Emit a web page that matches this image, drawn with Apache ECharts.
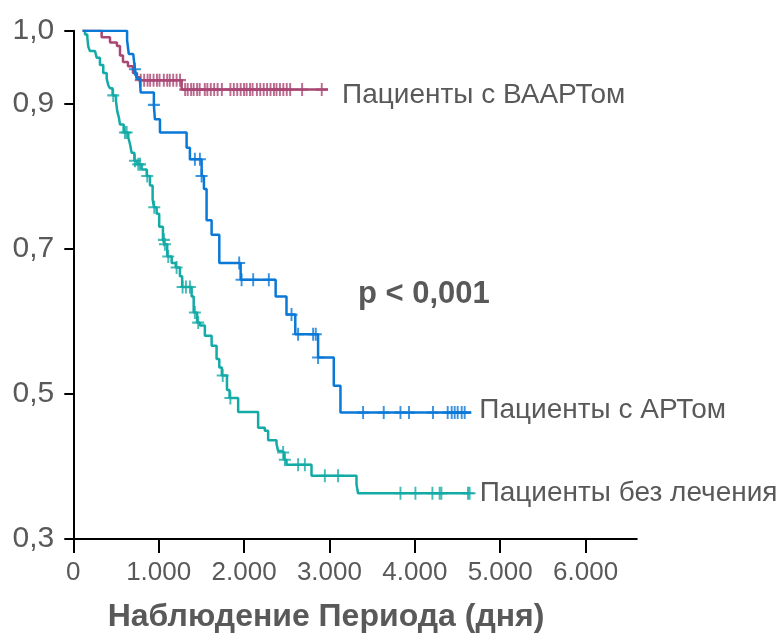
<!DOCTYPE html>
<html>
<head>
<meta charset="utf-8">
<script src="https://cdn.jsdelivr.net/npm/echarts@6/dist/echarts.min.js"></script>
<style>
html,body{margin:0;padding:0;background:#fff;}
#c{width:779px;height:635px;}
</style>
</head>
<body>
<div id="c"></div>
<script>
// ---- data ----
const seriesNames = ['Пациенты с ВААРТом', 'Пациенты с АРТом', 'Пациенты без лечения'];
const xTicks = [0, 1000, 2000, 3000, 4000, 5000, 6000];
const yTicks = [0.3, 0.5, 0.7, 0.9, 1.0];

// survival change points [day, survival]
const haartCurve = [[110,1.0],[332,0.991],[430,0.984],[511,0.979],[547,0.966],[582,0.957],[640,0.951],[699,0.942],[746,0.936],[781,0.932],[1269,0.919],[2984,0.919]];
const artCurve = [[110,1.0],[630,0.987],[650,0.968],[702,0.966],[714,0.955],[722,0.947],[742,0.934],[781,0.931],[789,0.915],[944,0.898],[956,0.878],[1015,0.860],[1327,0.839],[1366,0.823],[1503,0.800],[1530,0.782],[1561,0.739],[1620,0.719],[1710,0.680],[1960,0.657],[2370,0.634],[2497,0.609],[2600,0.582],[2867,0.550],[3051,0.511],[3129,0.474],[4662,0.474]];
const noTxCurve = [[110,1.0],[137,0.995],[164,0.991],[176,0.978],[195,0.972],[254,0.970],[274,0.963],[312,0.953],[351,0.942],[391,0.934],[410,0.925],[429,0.921],[460,0.911],[500,0.903],[515,0.889],[535,0.880],[547,0.871],[590,0.860],[644,0.853],[664,0.844],[683,0.832],[715,0.821],[750,0.816],[800,0.809],[860,0.800],[898,0.787],[929,0.768],[945,0.757],[976,0.748],[1006,0.730],[1050,0.712],[1070,0.706],[1100,0.689],[1152,0.680],[1200,0.674],[1249,0.662],[1275,0.647],[1386,0.634],[1410,0.612],[1450,0.598],[1483,0.594],[1541,0.580],[1620,0.566],[1678,0.548],[1710,0.536],[1740,0.525],[1800,0.505],[1830,0.494],[1931,0.475],[2165,0.453],[2243,0.449],[2282,0.436],[2380,0.431],[2399,0.421],[2440,0.419],[2470,0.409],[2497,0.402],[2790,0.387],[3317,0.375],[3335,0.363],[4642,0.363]];

// censoring times (days)
const haartCensor = [790,830,870,900,940,980,1010,1060,1100,1130,1170,1210,1250,1310,1340,1380,1410,1450,1480,1540,1570,1610,1650,1690,1740,1840,1880,1920,1960,2000,2030,2070,2100,2150,2190,2230,2270,2310,2350,2380,2420,2460,2500,2540,2680,2910];
const artCensor = [722,944,1424,1483,1503,1943,1971,2107,2290,2556,2633,2809,2840,2867,3394,3636,3832,3932,4213,4385,4432,4467,4502,4549,4584];
const noTxCensor = [468,605,625,722,761,781,866,948,1061,1073,1112,1210,1280,1319,1366,1424,1463,1750,1840,2458,2478,2633,2712,2946,3101,3832,4007,4206,4291,4311,4623,4642];

const pText = 'p < 0,001';
const xTitle = 'Наблюдение Периода (дня)';

// ---- chart ----
const colors = ['#aa4673', '#0a78d7', '#14aaa6'];
const textColor = '#595959';
const fontFam = '"Liberation Sans", Arial, sans-serif';
const plusPath = 'path://M5,0L5,10M0,5L10,5';

function survAt(curve, t) {
  let v = curve[0][1];
  for (const p of curve) { if (p[0] <= t) v = p[1]; else break; }
  return v;
}
function censorData(curve, times) { return times.map(t => [t, survAt(curve, t)]); }

function lineSeries(name, curve, color, z, labelOffset) {
  return {
    type: 'line', name: name, data: curve, step: 'end', showSymbol: false, symbol: 'none',
    lineStyle: { color: color, width: 2.5 }, z: z, silent: true,
    endLabel: {
      show: true, formatter: p => p.seriesName, color: textColor,
      fontFamily: fontFam, fontSize: 28,
      distance: labelOffset[0], offset: [0, labelOffset[1]]
    }
  };
}
function censorSeries(name, curve, times, color, z) {
  return {
    type: 'scatter', name: name + ' cens', data: censorData(curve, times),
    symbol: plusPath, symbolSize: [12, 13], z: z, silent: true,
    itemStyle: { color: 'rgba(0,0,0,0)', borderColor: color, borderWidth: 2 }
  };
}

const chart = echarts.init(document.getElementById('c'), null, { renderer: 'canvas' });
chart.setOption({
  animation: false,
  backgroundColor: '#ffffff',
  grid: { left: 73.3, right: 142.2, top: 30.8, bottom: 96.1, outerBoundsMode: 'none', containLabel: false },
  xAxis: {
    type: 'value', min: 0, max: 6600,
    axisLine: { show: true, lineStyle: { color: '#000', width: 2 } },
    axisTick: { show: true, length: 14, customValues: xTicks, lineStyle: { color: '#000', width: 2 } },
    axisLabel: {
      customValues: xTicks, color: textColor, fontSize: 26, margin: 21,
      fontFamily: fontFam,
      formatter: v => v === 0 ? '0' : (v / 1000) + '.000'
    },
    splitLine: { show: false },
    name: xTitle, nameLocation: 'middle', nameGap: 62,
    nameTextStyle: { color: textColor, fontSize: 32, fontWeight: 'bold', fontFamily: fontFam, padding: [0, 58, 0, 0] }
  },
  yAxis: {
    type: 'value', min: 0.3, max: 1.0,
    axisLine: { show: true, lineStyle: { color: '#000', width: 2 } },
    axisTick: { show: true, length: 9, customValues: yTicks, lineStyle: { color: '#000', width: 2 } },
    axisLabel: {
      customValues: yTicks, color: textColor, fontSize: 30, margin: 19,
      fontFamily: fontFam,
      formatter: v => v.toFixed(1).replace('.', ',')
    },
    splitLine: { show: false }
  },
  series: [
    lineSeries(seriesNames[2], noTxCurve, colors[2], 2, [10, 0]),
    censorSeries(seriesNames[2], noTxCurve, noTxCensor, colors[2], 2),
    lineSeries(seriesNames[0], haartCurve, colors[0], 3, [14, 6]),
    censorSeries(seriesNames[0], haartCurve, haartCensor, colors[0], 3),
    lineSeries(seriesNames[1], artCurve, colors[1], 4, [8, -2]),
    censorSeries(seriesNames[1], artCurve, artCensor, colors[1], 4)
  ],
  graphic: [{
    type: 'text', left: 358, top: 279,
    style: { text: pText, fill: textColor, font: 'bold 31px "Liberation Sans", Arial, sans-serif' }
  }]
});
</script>
</body>
</html>
